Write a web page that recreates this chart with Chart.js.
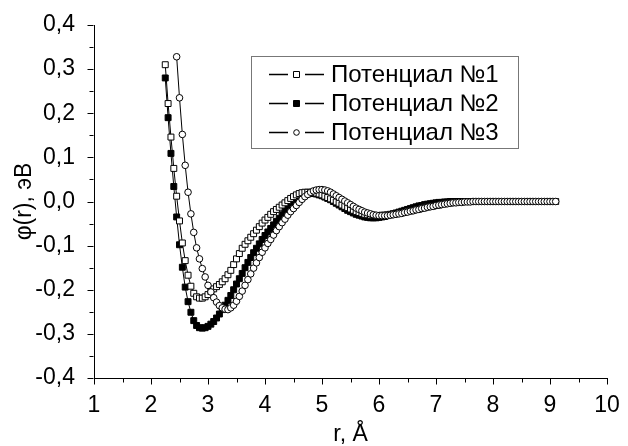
<!DOCTYPE html>
<html>
<head>
<meta charset="utf-8">
<script src="https://cdn.jsdelivr.net/npm/chart.js@4.4.1/dist/chart.umd.min.js"></script>
<style>
  html, body { margin: 0; padding: 0; background: #fff; }
  #chart { display: block; }
</style>
</head>
<body>
<canvas id="chart" width="628" height="446"></canvas>
<script>
// =======================
// DATA (r in Å, step 0.05)
// =======================
const rStep = 0.05;
const r1Start = 2.25;
const r2Start = 2.25;
const r3Start = 2.45;

// Потенциал №1 (2.25 .. 9.10)
const phi1 = [
    0.310, 0.222, 0.146, 0.075, 0.012, -0.044, -0.094, -0.134, -0.167, -0.192,
    -0.208, -0.216, -0.219, -0.219, -0.216, -0.211, -0.204, -0.198, -0.193, -0.188,
    -0.182, -0.175, -0.166, -0.156, -0.143, -0.130, -0.118, -0.106, -0.097, -0.089,
    -0.081, -0.073, -0.065, -0.057, -0.049, -0.042, -0.036, -0.029, -0.023, -0.018,
    -0.013, -0.008, -0.003, 0.002, 0.007, 0.011, 0.015, 0.018, 0.020, 0.021,
    0.021, 0.021, 0.020, 0.019, 0.017, 0.015, 0.012, 0.009, 0.006, 0.003,
    -0.001, -0.004, -0.008, -0.011, -0.014, -0.017, -0.020, -0.023, -0.025, -0.027,
    -0.029, -0.030, -0.031, -0.032, -0.032, -0.032, -0.031, -0.031, -0.030, -0.029,
    -0.028, -0.027, -0.026, -0.025, -0.024, -0.022, -0.021, -0.020, -0.018, -0.017,
    -0.015, -0.014, -0.012, -0.011, -0.010, -0.009, -0.008, -0.006, -0.005, -0.004,
    -0.003, -0.002, -0.002, -0.001, -0.001, 0, 0, 0, 0, 0,
    0, 0, 0, 0, 0, 0, 0, 0, 0, 0,
    0, 0, 0, 0, 0, 0, 0, 0, 0, 0,
    0, 0, 0, 0, 0, 0, 0, 0
];

// Потенциал №2 (2.25 .. 7.55)
const phi2 = [
    0.280, 0.190, 0.109, 0.034, -0.035, -0.098, -0.149, -0.194, -0.227, -0.251,
    -0.270, -0.281, -0.286, -0.287, -0.286, -0.283, -0.278, -0.272, -0.264, -0.255,
    -0.245, -0.235, -0.224, -0.213, -0.200, -0.187, -0.175, -0.163, -0.150, -0.138,
    -0.127, -0.116, -0.106, -0.096, -0.086, -0.077, -0.069, -0.061, -0.053, -0.045,
    -0.038, -0.030, -0.023, -0.016, -0.009, -0.003, 0.003, 0.008, 0.012, 0.015,
    0.017, 0.018, 0.018, 0.017, 0.015, 0.013, 0.010, 0.007, 0.004, 0.000,
    -0.004, -0.008, -0.012, -0.016, -0.020, -0.023, -0.026, -0.029, -0.031, -0.033,
    -0.035, -0.036, -0.037, -0.037, -0.037, -0.036, -0.035, -0.034, -0.032, -0.030,
    -0.028, -0.026, -0.024, -0.022, -0.020, -0.018, -0.016, -0.014, -0.012, -0.010,
    -0.009, -0.007, -0.006, -0.005, -0.004, -0.003, -0.002, -0.002, -0.001, -0.001,
    0, 0, 0, 0, 0, 0, 0
];

// Потенциал №3 (2.45 .. 9.10)
const phi3 = [
    0.328, 0.235, 0.152, 0.082, 0.021, -0.028, -0.070, -0.105, -0.130, -0.152,
    -0.171, -0.190, -0.205, -0.218, -0.228, -0.236, -0.241, -0.244, -0.245, -0.241,
    -0.235, -0.226, -0.215, -0.203, -0.190, -0.177, -0.164, -0.151, -0.139, -0.127,
    -0.115, -0.105, -0.095, -0.086, -0.076, -0.066, -0.057, -0.048, -0.040, -0.031,
    -0.023, -0.016, -0.009, -0.002, 0.005, 0.011, 0.016, 0.021, 0.024, 0.026,
    0.027, 0.027, 0.026, 0.024, 0.021, 0.017, 0.013, 0.009, 0.005, 0.001,
    -0.003, -0.007, -0.011, -0.015, -0.018, -0.021, -0.024, -0.026, -0.028, -0.030,
    -0.031, -0.032, -0.032, -0.032, -0.032, -0.031, -0.030, -0.029, -0.028, -0.027,
    -0.025, -0.024, -0.022, -0.021, -0.019, -0.018, -0.016, -0.015, -0.013, -0.012,
    -0.011, -0.009, -0.008, -0.007, -0.006, -0.005, -0.004, -0.003, -0.003, -0.002,
    -0.002, -0.001, -0.001, -0.001, 0, 0, 0, 0, 0, 0,
    0, 0, 0, 0, 0, 0, 0, 0, 0, 0,
    0, 0, 0, 0, 0, 0, 0, 0, 0, 0,
    0, 0, 0, 0
];

const seriesNames = ["Потенциал №1", "Потенциал №2", "Потенциал №3"];
const xTickValues = [1, 2, 3, 4, 5, 6, 7, 8, 9, 10];
const yTickValues = [-0.4, -0.3, -0.2, -0.1, 0.0, 0.1, 0.2, 0.3, 0.4];
const xTitle = "r, Å";
const yTitle = "φ(r), эВ";

const FONT = "'Liberation Sans', Arial, sans-serif";

function toPoints(start, values) {
    return values.map((v, i) => ({ x: +(start + i * rStep).toFixed(2), y: v }));
}

function commaLabel(v) {
    if (Math.abs(v) < 1e-9) return "0,0";
    return v.toFixed(1).replace(".", ",");
}

// =======================
// TICKS (major + minor, outward)
// =======================
const tickMarks = {
    id: "tickMarks",
    afterDraw(chart) {
        const { ctx, scales } = chart;
        const xs = scales.x, ys = scales.y;
        ctx.save();
        ctx.strokeStyle = "#000";
        ctx.lineWidth = 1;
        ctx.beginPath();
        const bottom = Math.round(ys.bottom) + 0.5;
        xTickValues.forEach((v, i) => {
            const px = Math.round(xs.getPixelForValue(v)) + 0.5;
            ctx.moveTo(px, bottom);
            ctx.lineTo(px, bottom + 6);
            if (i < xTickValues.length - 1) {
                const m = Math.round(xs.getPixelForValue((v + xTickValues[i + 1]) / 2)) + 0.5;
                ctx.moveTo(m, bottom);
                ctx.lineTo(m, bottom + 4);
            }
        });
        const left = Math.round(xs.left) - 0.5;
        yTickValues.forEach((v, i) => {
            const py = Math.round(ys.getPixelForValue(v)) + 0.5;
            ctx.moveTo(left, py);
            ctx.lineTo(left - 6, py);
            if (i < yTickValues.length - 1) {
                const m = Math.round(ys.getPixelForValue((v + yTickValues[i + 1]) / 2)) + 0.5;
                ctx.moveTo(left, m);
                ctx.lineTo(left - 4, m);
            }
        });
        ctx.stroke();
        ctx.restore();
    }
};

// =======================
// LEGEND
// =======================
const boxLegend = {
    id: "boxLegend",
    afterDraw(chart) {
        const ctx = chart.ctx;
        const box = { x: 251, y: 56, w: 267, h: 92 };
        const rows = [74, 103, 132];
        ctx.save();
        ctx.fillStyle = "#fff";
        ctx.fillRect(box.x, box.y, box.w, box.h);
        ctx.strokeStyle = "#777";
        ctx.lineWidth = 1;
        ctx.strokeRect(box.x + 0.5, box.y + 0.5, box.w, box.h);

        chart.data.datasets.forEach((ds, i) => {
            const y = rows[i] + 0.5;
            ctx.strokeStyle = "#000";
            ctx.lineWidth = 1.5;
            ctx.beginPath();
            ctx.moveTo(269, y);
            ctx.lineTo(288, y);
            ctx.moveTo(305, y);
            ctx.lineTo(324, y);
            ctx.stroke();

            ctx.lineWidth = 1;
            ctx.fillStyle = ds.pointBackgroundColor;
            ctx.beginPath();
            if (ds.pointStyle === "circle") {
                ctx.arc(296.5, y, 2.8, 0, Math.PI * 2);
            } else {
                ctx.rect(293.5, y - 3, 6, 6);
            }
            ctx.fill();
            ctx.stroke();

            ctx.fillStyle = "#000";
            ctx.font = "24px " + FONT;
            ctx.textBaseline = "middle";
            ctx.textAlign = "left";
            ctx.fillText(ds.label, 331, rows[i] + 1);
        });
        ctx.restore();
    }
};

// =======================
// CHART
// =======================
new Chart(document.getElementById("chart"), {
    type: "line",
    data: {
        datasets: [
            {
                label: seriesNames[0],
                data: toPoints(r1Start, phi1),
                borderColor: "#000",
                borderWidth: 1,
                pointStyle: "rect",
                pointRadius: 4.2,
                pointBorderWidth: 1,
                pointBorderColor: "#000",
                pointBackgroundColor: "#fff",
                order: 1
            },
            {
                label: seriesNames[1],
                data: toPoints(r2Start, phi2),
                borderColor: "#000",
                borderWidth: 1,
                pointStyle: "rect",
                pointRadius: 4.2,
                pointBorderWidth: 1,
                pointBorderColor: "#000",
                pointBackgroundColor: "#000",
                order: 2
            },
            {
                label: seriesNames[2],
                data: toPoints(r3Start, phi3),
                borderColor: "#000",
                borderWidth: 1,
                pointStyle: "circle",
                pointRadius: 3.3,
                pointBorderWidth: 1,
                pointBorderColor: "#000",
                pointBackgroundColor: "#fff",
                order: 0
            }
        ]
    },
    options: {
        responsive: false,
        animation: false,
        layout: { padding: { left: 0, right: 21, top: 25, bottom: 0 } },
        plugins: {
            legend: { display: false },
            tooltip: { enabled: false }
        },
        scales: {
            x: {
                type: "linear",
                min: 1,
                max: 10,
                afterBuildTicks: (scale) => { scale.ticks = xTickValues.map(v => ({ value: v })); },
                afterFit: (scale) => { scale.height = 68; },
                grid: { display: false },
                border: { display: true, color: "#000", width: 1 },
                ticks: {
                    color: "#000",
                    padding: 6,
                    maxRotation: 0,
                    autoSkip: false,
                    font: { family: FONT, size: 23 },
                    callback: (v) => String(v)
                },
                title: {
                    display: true,
                    text: xTitle,
                    color: "#000",
                    font: { family: FONT, size: 23, lineHeight: 1 },
                    padding: { top: 0, bottom: 0 }
                }
            },
            y: {
                type: "linear",
                min: -0.4,
                max: 0.4,
                afterBuildTicks: (scale) => { scale.ticks = yTickValues.map(v => ({ value: v })); },
                afterFit: (scale) => { scale.width = 94; },
                grid: { display: false },
                border: { display: true, color: "#000", width: 1 },
                ticks: {
                    color: "#000",
                    padding: 11,
                    autoSkip: false,
                    font: { family: FONT, size: 23 },
                    callback: (v) => commaLabel(v)
                },
                title: {
                    display: true,
                    text: yTitle,
                    color: "#000",
                    font: { family: FONT, size: 23, lineHeight: 1.2 },
                    padding: { top: 11, bottom: 0 }
                }
            }
        }
    },
    plugins: [tickMarks, boxLegend]
});
</script>
</body>
</html>
